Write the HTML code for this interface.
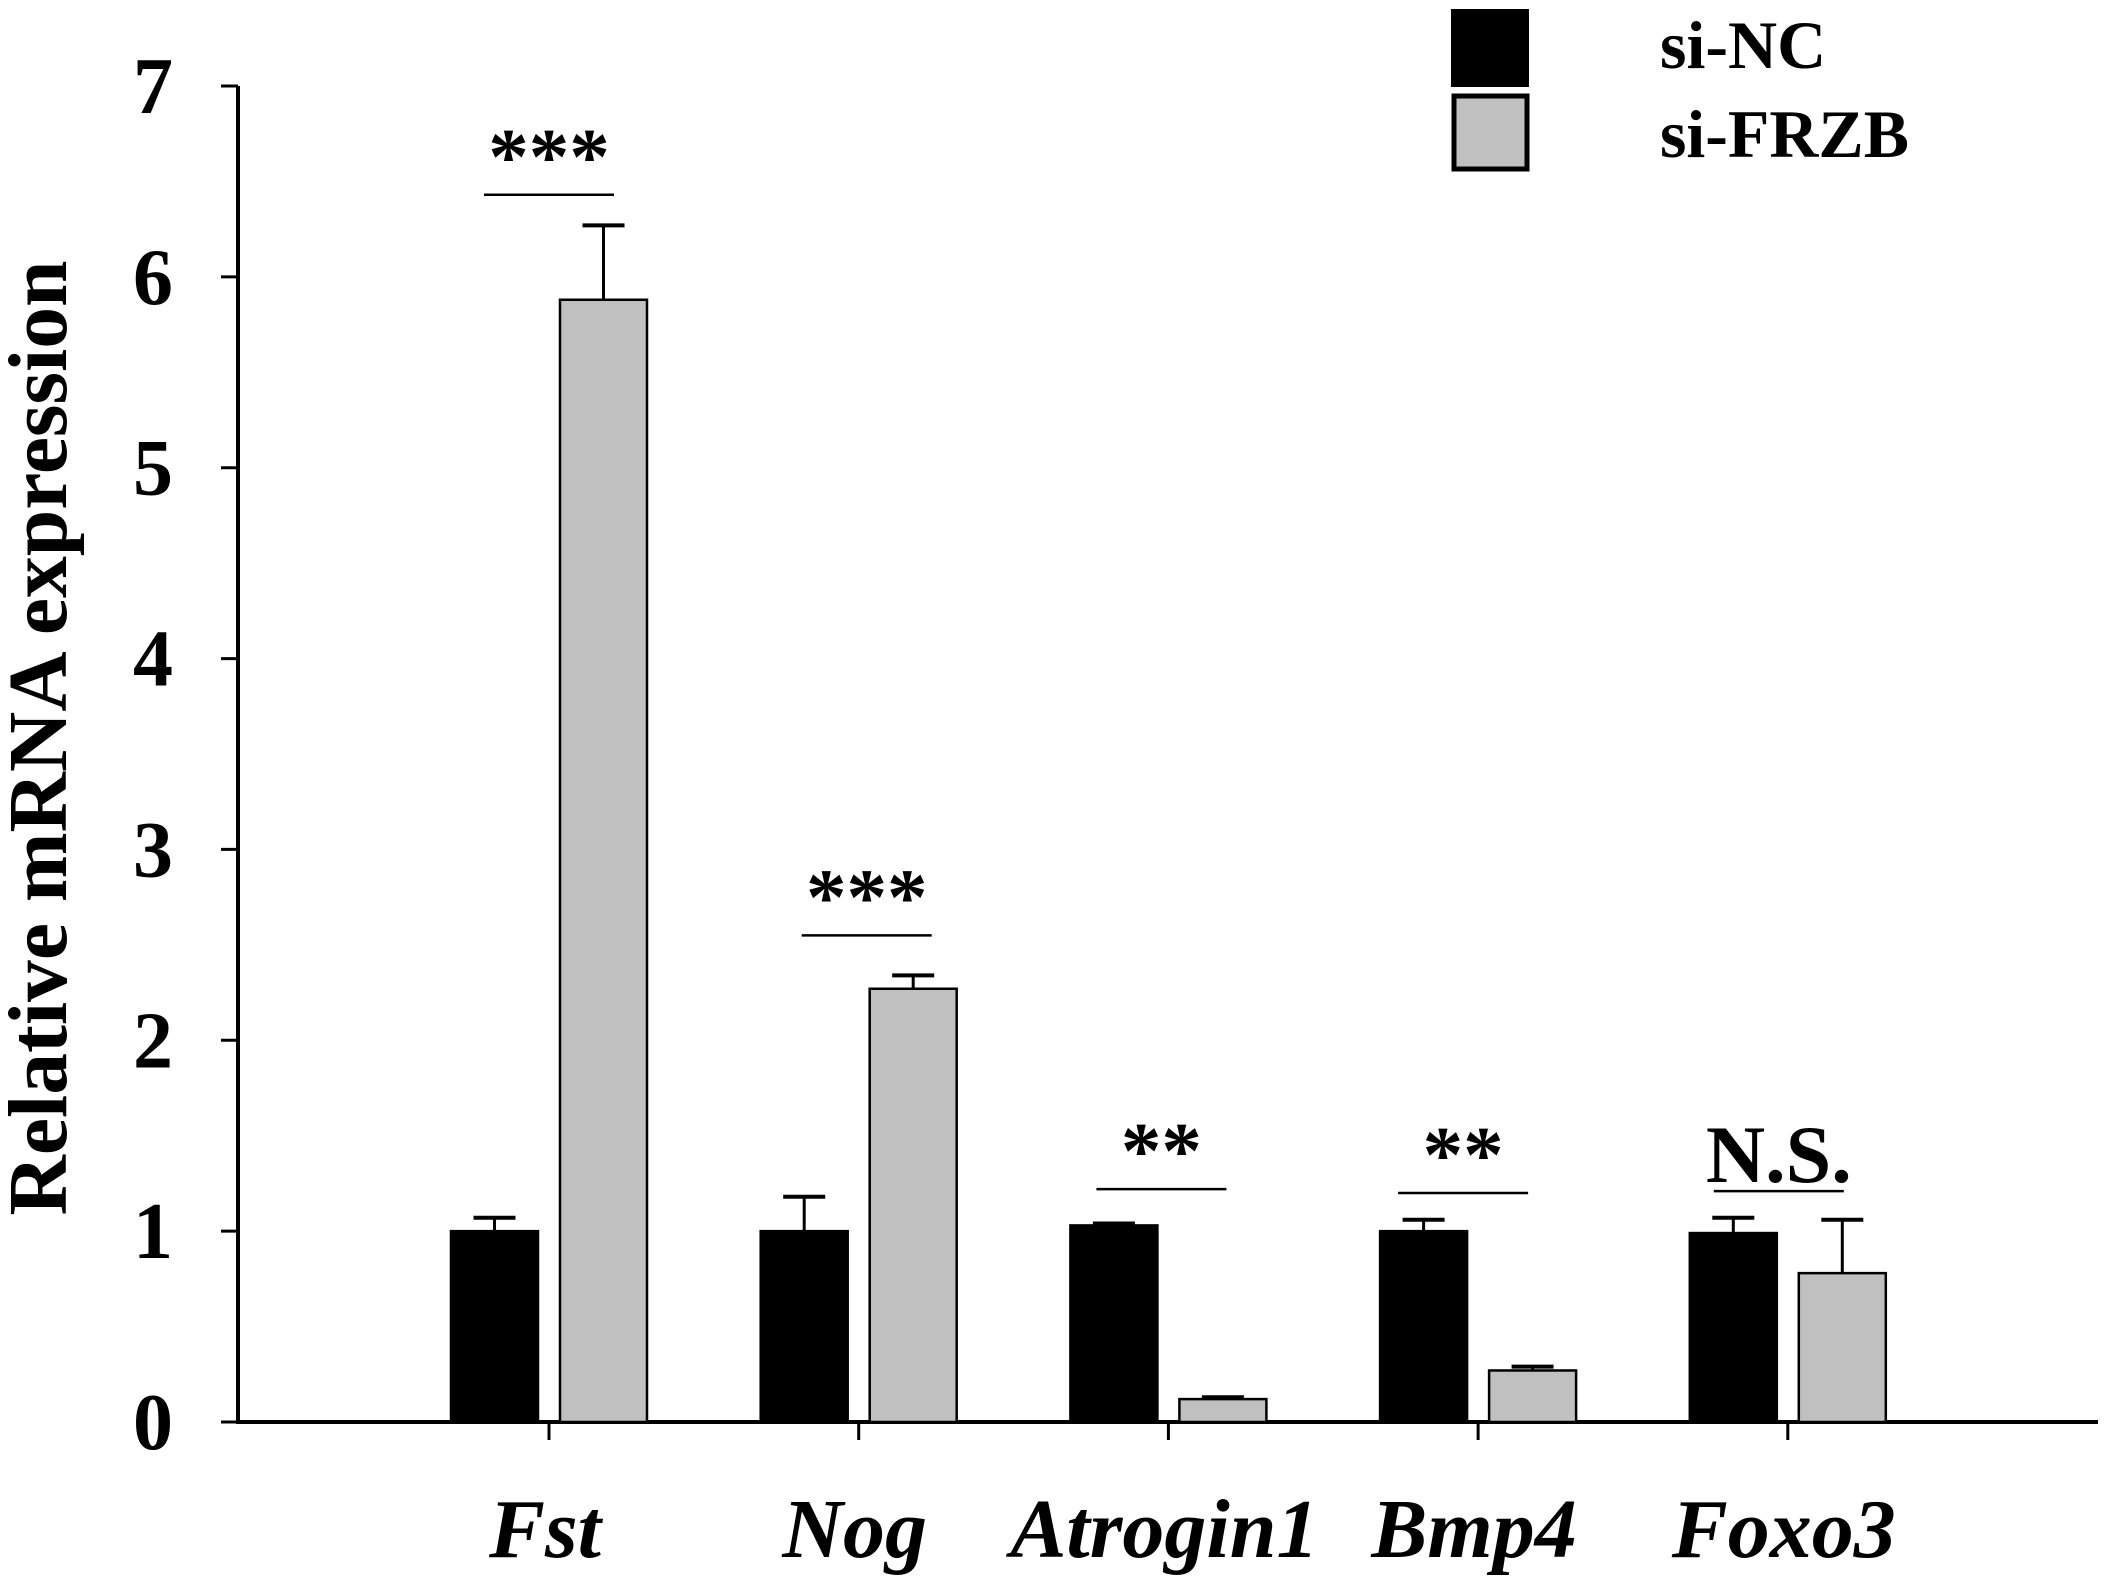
<!DOCTYPE html>
<html><head><meta charset="utf-8"><style>
html,body{margin:0;padding:0;background:#fff;}
svg{display:block;}
text{font-family:"Liberation Serif",serif;font-weight:bold;fill:#000;}
</style></head><body>
<svg id="chart" width="2109" height="1592" viewBox="0 0 2109 1592" xmlns="http://www.w3.org/2000/svg">
<g id="axes"></g>
<g id="bars"></g>
<g id="sig"></g>
<text transform="translate(66,738) rotate(-90)" text-anchor="middle" font-size="84" textLength="955" lengthAdjust="spacingAndGlyphs">Relative mRNA expression</text>
<g>
<rect x="1452" y="10" width="76" height="76" fill="#000" stroke="#000" stroke-width="2"/>
<text x="1660" y="68" font-size="68">si-NC</text>
<rect x="1454" y="96" width="73" height="73" fill="#c0c0c0" stroke="#000" stroke-width="5"/>
<text x="1660" y="157" font-size="68" textLength="249" lengthAdjust="spacingAndGlyphs">si-FRZB</text>
</g>
</svg>
<script>
const categories = ["Fst","Nog","Atrogin1","Bmp4","Foxo3"];
const ncValues = [1.0, 1.0, 1.03, 1.0, 0.99];
const ncErrTop = [1.07, 1.18, 1.04, 1.06, 1.07];
const frzbValues = [5.88, 2.27, 0.12, 0.27, 0.78];
const frzbErrTop = [6.27, 2.34, 0.13, 0.29, 1.06];
const sigLabels = ["***","***","**","**","N.S."];
const sigLevels = [6.43, 2.55, 1.22, 1.2, 1.21];
const yTicks = [0,1,2,3,4,5,6,7];

const NS = "http://www.w3.org/2000/svg";
const X0 = 238, X1 = 2098, Y0 = 1422, Y7 = 86;
const sigShift = [0, 8, -7, -15, -9];
function y(v){ return Y0 - (Y0 - Y7) * v / 7; }
function xc(i){ return 549 + i * 309.7; }
function mk(tag, attrs, parent){ const e = document.createElementNS(NS, tag); for (const k in attrs) e.setAttribute(k, attrs[k]); parent.appendChild(e); return e; }
const axes = document.getElementById('axes'), bars = document.getElementById('bars'), sig = document.getElementById('sig');

let yl = mk('line', {x1:X0, y1:Y7, x2:X0, y2:Y0+2, stroke:'#000','stroke-width':4}, axes);


let xl = mk('line', {x1:X0-2, y1:Y0, x2:X1, y2:Y0, stroke:'#000','stroke-width':4}, axes);


yTicks.forEach(t => {
  const tk = mk('line', {x1:X0-17, y1:y(t), x2:X0, y2:y(t), stroke:'#000','stroke-width':3}, axes);
  
  
  const lb = mk('text', {x:173, y:y(t)+27, 'text-anchor':'end', 'font-size':80}, axes);
  lb.textContent = t;
  
  
});
categories.forEach((c, i) => {
  const cx = xc(i);
  const tk = mk('line', {x1:cx, y1:Y0, x2:cx, y2:Y0+18, stroke:'#000','stroke-width':3}, axes);
  
  
  const lb = mk('text', {x:cx-4, y:1557, 'text-anchor':'middle', 'font-size':84, 'font-style':'italic'}, axes);
  lb.textContent = c;
  
  

  [[ncValues, ncErrTop, cx-98, '#000', 'si-nc'], [frzbValues, frzbErrTop, cx+11, '#c0c0c0', 'si-frzb']].forEach(([vals, errs, bx, fill, nm]) => {
    const bw = 87;
    const mid = bx + bw/2;
    const eb = mk('line', {x1:mid, y1:y(vals[i]), x2:mid, y2:y(errs[i]), stroke:'#000','stroke-width':3}, bars);
    
    
    const cap = mk('line', {x1:mid-21, y1:y(errs[i]), x2:mid+21, y2:y(errs[i]), stroke:'#000','stroke-width':4}, bars);
    
    
    const r = mk('rect', {x:bx, y:y(vals[i]), width:bw, height:Y0 - y(vals[i]), fill:fill, stroke:'#000','stroke-width':2.5}, bars);
    
    
  });

  const ly = y(sigLevels[i]);
  const sx = cx + sigShift[i];
  const ln = mk('line', {x1:sx-65, y1:ly, x2:sx+65, y2:ly, stroke:'#000','stroke-width':2.5}, sig);
  
  
  const isNS = sigLabels[i] === 'N.S.';
  const st = mk('text', {x:sx, y: isNS ? ly - 9 : ly - 11, 'text-anchor':'middle', 'font-size': isNS ? 82 : 81}, sig);
  st.textContent = sigLabels[i];
  
  
});
</script>
</body></html>
